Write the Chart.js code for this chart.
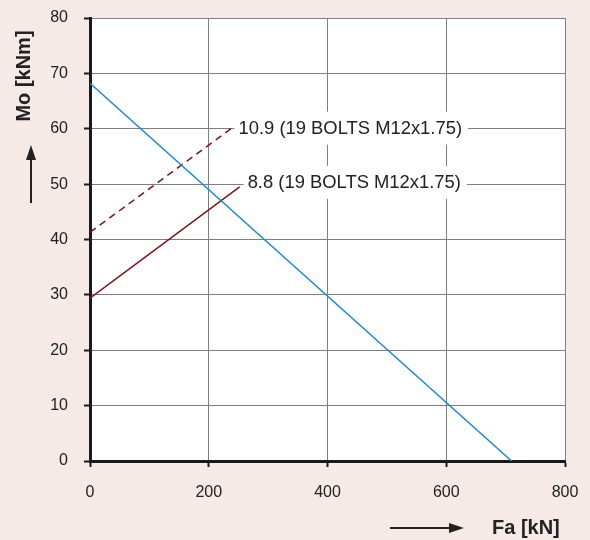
<!DOCTYPE html>
<html>
<head>
<meta charset="utf-8">
<script src="https://cdn.jsdelivr.net/npm/chart.js@4"></script>
<style>
  html, body { margin: 0; padding: 0; background: #f5eae5; }
  #wrap { width: 590px; height: 540px; }
</style>
</head>
<body>
<div id="wrap"><canvas id="grafico" width="590" height="540"></canvas></div>
<script>
// values
const limitX = [0, 710];
const limitY = [68.2, 0];
const bolts109X = [0, 240];
const bolts109Y = [41.3, 60.2];
const bolts88X = [0, 252];
const bolts88Y = [29.4, 49.5];
const xTicks = [0, 200, 400, 600, 800];
const yTicks = [0, 10, 20, 30, 40, 50, 60, 70, 80];
const label109 = '10.9 (19 BOLTS M12x1.75)';
const label88 = '8.8 (19 BOLTS M12x1.75)';

const pts = (xs, ys) => xs.map((x, i) => ({x: x, y: ys[i]}));

// white plot area
const plotBg = {
  id: 'plotBg',
  beforeDraw(chart) {
    const a = chart.chartArea;
    chart.ctx.save();
    chart.ctx.fillStyle = '#fff';
    chart.ctx.fillRect(a.left, a.top, a.right - a.left, a.bottom - a.top);
    chart.ctx.restore();
  }
};

// white boxed labels next to the end of the bolt lines
const lineLabels = {
  id: 'lineLabels',
  beforeDatasetsDraw(chart) {
    const ctx = chart.ctx;
    const xs = chart.scales.x, ys = chart.scales.y;
    const items = [
      {text: label109, x: bolts109X[1], y: bolts109Y[1], dx: 6, dy: 0},
      {text: label88, x: bolts88X[1], y: bolts88Y[1], dx: 8, dy: -5}
    ];
    ctx.save();
    ctx.font = '18.4px "Liberation Sans", Arial, sans-serif';
    ctx.textBaseline = 'middle';
    items.forEach(it => {
      const px = xs.getPixelForValue(it.x) + it.dx;
      const py = ys.getPixelForValue(it.y) + it.dy;
      const w = ctx.measureText(it.text).width;
      ctx.fillStyle = '#fff';
      ctx.fillRect(px - 4, py - 16, w + 10, 33);
      ctx.fillStyle = '#222';
      ctx.fillText(it.text, px, py + 1);
    });
    ctx.restore();
  }
};

// axis titles with arrows
const axisTitles = {
  id: 'axisTitles',
  afterDraw(chart) {
    const ctx = chart.ctx;
    ctx.save();
    ctx.fillStyle = '#222';
    ctx.strokeStyle = '#222';
    ctx.font = 'bold 20px "Liberation Sans", Arial, sans-serif';
    // y title
    ctx.save();
    ctx.translate(24, 76);
    ctx.rotate(-Math.PI / 2);
    ctx.textAlign = 'center';
    ctx.textBaseline = 'middle';
    ctx.fillText('Mo [kNm]', 0, 0);
    ctx.restore();
    // up arrow
    ctx.lineWidth = 2;
    ctx.beginPath();
    ctx.moveTo(31, 203);
    ctx.lineTo(31, 158);
    ctx.stroke();
    ctx.beginPath();
    ctx.moveTo(31, 145);
    ctx.lineTo(26, 160);
    ctx.lineTo(36, 160);
    ctx.closePath();
    ctx.fill();
    // x title
    ctx.textAlign = 'left';
    ctx.textBaseline = 'middle';
    ctx.fillText('Fa [kN]', 492, 528);
    // right arrow
    ctx.beginPath();
    ctx.moveTo(390, 528);
    ctx.lineTo(450, 528);
    ctx.stroke();
    ctx.beginPath();
    ctx.moveTo(464, 528);
    ctx.lineTo(449, 523);
    ctx.lineTo(449, 533);
    ctx.closePath();
    ctx.fill();
    ctx.restore();
  }
};

const config = {
  type: 'scatter',
  data: {
    datasets: [
      {
        label: 'limit',
        data: pts(limitX, limitY),
        showLine: true,
        borderColor: '#1b8bd3',
        borderWidth: 1.5,
        pointRadius: 0
      },
      {
        label: label109,
        data: pts(bolts109X, bolts109Y),
        showLine: true,
        borderColor: '#7a1418',
        borderWidth: 1.5,
        borderDash: [7, 5],
        pointRadius: 0
      },
      {
        label: label88,
        data: pts(bolts88X, bolts88Y),
        showLine: true,
        borderColor: '#7a1418',
        borderWidth: 1.5,
        pointRadius: 0
      }
    ]
  },
  options: {
    responsive: false,
    animation: false,
    layout: {padding: {left: 0, top: 18, right: 25, bottom: 0}},
    plugins: {
      legend: {display: false},
      tooltip: {enabled: false}
    },
    scales: {
      x: {
        type: 'linear',
        min: 0,
        max: 800,
        afterBuildTicks: s => { s.ticks = xTicks.map(v => ({value: v})); },
        afterFit: s => { s.height = 79; s.paddingLeft = 0; s.paddingRight = 0; },
        grid: {color: '#7f7f7f', lineWidth: 1, tickLength: 6, tickColor: '#1a1a1a', tickWidth: 2},
        border: {color: '#1a1a1a', width: 3},
        ticks: {
          padding: 16,
          color: '#222',
          font: {family: '"Liberation Sans", Arial, sans-serif', size: 16}
        }
      },
      y: {
        type: 'linear',
        min: 0,
        max: 80,
        afterBuildTicks: s => { s.ticks = yTicks.map(v => ({value: v})); },
        afterFit: s => { s.width = 90; s.paddingTop = 0; s.paddingBottom = 0; },
        grid: {color: '#7f7f7f', lineWidth: 1, tickLength: 6, tickColor: '#1a1a1a', tickWidth: 2},
        border: {color: '#1a1a1a', width: 3},
        ticks: {
          padding: 16,
          color: '#222',
          font: {family: '"Liberation Sans", Arial, sans-serif', size: 16}
        }
      }
    }
  },
  plugins: [plotBg, lineLabels, axisTitles]
};

const myChart = new Chart(document.getElementById('grafico'), config);
</script>
</body>
</html>
